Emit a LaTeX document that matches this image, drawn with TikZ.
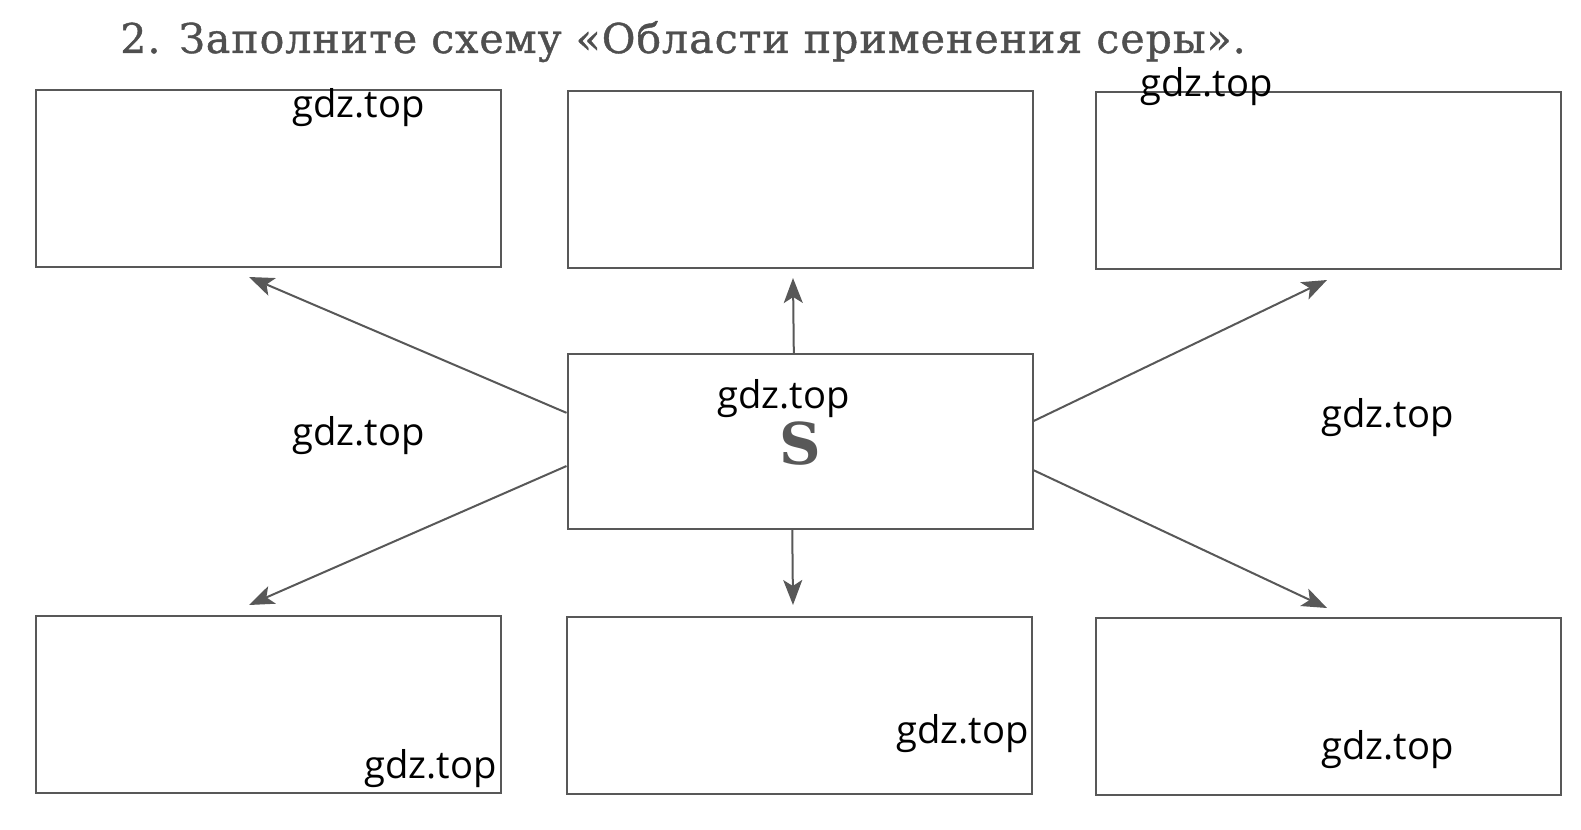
\documentclass[tikz,border=0pt]{standalone}
\usepackage{fontspec}
\setmainfont{DejaVu Serif}
\newfontfamily\titlefont[LetterSpace=2.5, FakeBold=1]{DejaVu Serif}
\newfontfamily\markfont{Open Sans}
\usepackage{xcolor}
\usetikzlibrary{arrows.meta}

\definecolor{inkgray}{RGB}{88,88,88}
\tikzset{
	answerbox/.style={draw=inkgray, line width=1pt, minimum width=232.5pt, minimum height=88.5pt, inner sep=0pt},
	arrowline/.style={draw=inkgray, line width=1pt, -{Stealth[length=12.5pt, width=9.5pt, inset=3pt]}},
	watermark/.style={anchor=base west, inner sep=0pt, font=\markfont\fontsize{19.1}{20}\selectfont}
}

\begin{document}
\begin{tikzpicture}[x=0.5pt, y=-0.5pt]
	\useasboundingbox (0,0) rectangle (1581,830);
	
		% title
		\node[anchor=base west, inner sep=0pt, text=inkgray!90!black, font=\titlefont\fontsize{20.5}{22}\selectfont] (title) at (120,53) {2. Заполните схему «Области применения серы».};
		
		% boxes
		\node[answerbox] (tl) at (268.5,178) {};
		\node[answerbox] (tm) at (800,179.5) {};
		\node[answerbox] (tr) at (1328,180.5) {};
		\node[answerbox, minimum height=87.5pt] (c) at (800,441.5) {};
		\node[answerbox] (bl) at (268,704) {};
		\node[answerbox] (bm) at (799.5,705) {};
		\node[answerbox] (br) at (1328,706) {};
		\node[anchor=base, inner sep=0pt, text=inkgray, font=\bfseries\fontsize{28.8}{30}\selectfont] (sulfur) at (800,464) {S};
		
		% arrow tips
		\coordinate (tipTL) at (249,277);
		\coordinate (tipTM) at (793,278);
		\coordinate (tipTR) at (1327,280);
		\coordinate (tipBL) at (249,605);
		\coordinate (tipBM) at (793,605);
		\coordinate (tipBR) at (1327,608);
		\draw[arrowline] (c.173.75) -- (tipTL);
		\draw[arrowline] (c.94.6) -- (tipTM);
		\draw[arrowline] (c.5.8) -- (tipTR);
		\draw[arrowline] (c.186) -- (tipBL);
		\draw[arrowline] (c.265.4) -- (tipBM);
		\draw[arrowline] (c.353.75) -- (tipBR);
		
		% watermarks
		\node[watermark] (wm1) at (292,117) {gdz.top};
		\node[watermark] (wm2) at (1140,96) {gdz.top};
		\node[watermark] (wm3) at (717,408) {gdz.top};
		\node[watermark] (wm4) at (292,445) {gdz.top};
		\node[watermark] (wm5) at (1321,427) {gdz.top};
		\node[watermark] (wm6) at (896,743) {gdz.top};
		\node[watermark] (wm7) at (364,778) {gdz.top};
		\node[watermark] (wm8) at (1321,759) {gdz.top};
	\end{tikzpicture}
\end{document}
